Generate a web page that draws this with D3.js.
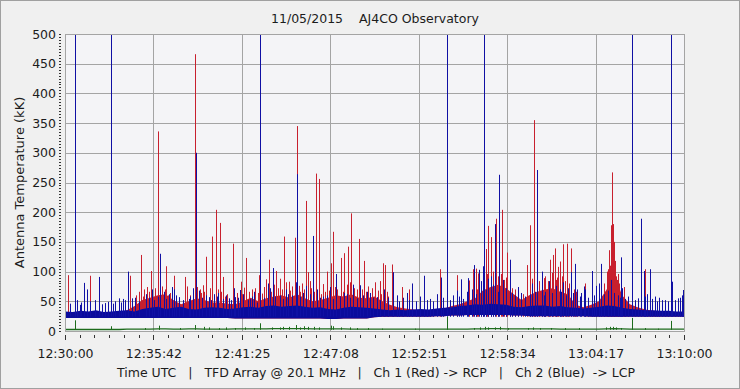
<!DOCTYPE html>
<html>
<head>
<meta charset="utf-8">
<script src="https://cdn.jsdelivr.net/npm/d3@7"></script>
<style>
  body { margin: 0; background: #f0f0f0; }
  svg { display: block; }
  text { font-family: "DejaVu Sans", sans-serif; fill: #1c1c1c; }
</style>
</head>
<body>
<div id="chart"></div>
<script>
// ---- data (minutes after 12:30:00 UTC, antenna temperature in kK) ----
var titleText = "11/05/2015    AJ4CO Observatory";
var yLabel = "Antenna Temperature (kK)";
var xLabel = "Time UTC   |   TFD Array @ 20.1 MHz   |   Ch 1 (Red) -> RCP   |   Ch 2 (Blue)  -> LCP";
var tickLabels = ["12:30:00", "12:35:42", "12:41:25", "12:47:08", "12:52:51", "12:58:34", "13:04:17", "13:10:00"];
var yTicks = [0, 50, 100, 150, 200, 250, 300, 350, 400, 450, 500];

// envelope of the dense noise, one value per half minute (0..40)
var blueLow = [22,22,22,22,22,22,22,22,22,22, 22,22,22,22,22,22,22,22,22,22,
               22,22,21,21,21,21,21,21,21,21, 21,21,21,21,20,20,21,21,21,21,
               23,24,24,24,24,24,24,24,25,25, 26,26,27,27,27,27,27,27,26,26,
               25,25,25,25,25,25,25,25,24,24, 24,24,24,24,24,24,24,24,24,24, 24];
var blueTop = [33,32,34,33,35,32,33,34,35,33, 37,39,41,37,39,41,37,36,39,40,
               39,37,38,40,41,39,42,43,41,42, 43,41,39,40,37,36,39,41,40,39,
               38,36,35,36,35,36,37,36,38,39, 40,42,43,45,44,46,45,44,41,40,
               42,43,43,41,42,40,39,38,39,41, 43,42,39,37,36,35,35,34,34,33, 33];
var redTop  = [26,27,26,27,28,29,30,31,35,42, 52,56,60,62,52,45,50,55,52,48,
               48,46,45,50,56,50,55,58,60,56, 62,55,50,52,56,60,58,62,56,55,
               58,50,44,40,38,36,35,34,36,38, 42,45,50,55,68,74,78,72,62,52,
               60,66,70,72,66,62,44,40,44,50, 70,95,60,45,40,36,34,33,32,31, 30];
var greenBase = [2.5,2.5,2.5,2.5,2.5,2.5,2.5,2.5,3,3, 3,3,3.5,3.5,3,3,3.5,3.5,3,3,
                 3,3,3.5,3.5,3.5,3.5,3.5,4,4,4, 4,4,3.5,3.5,3.5,3.5,3.5,3,3,3,
                 3,3,3,3,3,3,3,3,3,3, 3,3,3,3.5,3.5,4,4,3.5,3.5,3.5,
                 3.5,3.5,3.5,3.5,3,3,3,3,3,3, 3.5,4,3.5,3,3,3,3,3,3,3, 3];

// Ch 1 (red) bursts: [minute, kK]
var redSpikes = [
  [0.21,94],[1.63,93],[4.22,93],[4.93,128],[5.54,101],[5.98,184],[6.03,336],[6.53,109],[7.06,93],
  [7.77,91],[7.90,75],[8.42,466],[8.48,218],[8.94,77],[9.13,125],[9.48,159],[9.78,204],[10.00,182],
  [10.21,91],[10.84,147],[11.35,83],[11.59,73],[11.72,123],[12.56,94],[12.75,63],[12.99,87],[13.20,120],
  [13.65,101],[13.87,88],[14.17,159],[14.46,83],[14.88,157],[15.01,345],[15.17,66],[15.59,219],[15.72,99],
  [16.24,265],[16.43,256],[16.65,79],[16.95,100],[17.19,114],[17.34,167],[17.82,123],[18.01,131],
  [18.31,142],[18.50,198],[19.02,155],[19.34,118],[20.01,82],[20.37,84],[20.53,114],[20.66,111],
  [21.11,112],[21.76,74],[22.25,70],[24.25,104],[25.36,94],[26.13,85],[26.38,104],[26.56,105],[26.71,97],
  [27.20,138],[27.35,177],[27.53,158],[27.87,189],[28.27,204],[28.58,132],[29.85,111],[30.07,178],
  [30.33,355],[30.97,89],[31.37,120],[31.53,128],[31.68,139],[31.86,108],[32.01,117],[32.20,146],
  [32.41,147],[32.72,139],[33.6,80],[35.02,83],[35.13,136],[35.26,178],[35.37,267],[35.68,86],[36.1,74],[37.48,104],
  [4.6,60],[5.1,70],[5.4,66],[5.8,72],[6.3,75],[6.8,64],[8.1,60],[8.7,70],[9.0,66],[9.9,70],[10.5,62],
  [11.1,64],[11.9,66],[12.3,72],[13.0,68],[13.5,78],[14.0,70],[14.7,75],[15.3,80],[15.9,72],[16.8,66],
  [17.6,70],[18.2,78],[18.7,72],[19.2,70],[19.6,75],[20.2,68],[20.8,66],[26.9,74],[27.5,90],[28.0,92],
  [28.4,86],[28.9,72],[29.3,66],[30.5,80],[30.8,76],[31.2,84],[31.8,90],[32.3,84],[32.9,70],[35.0,100],
  [35.2,110],[35.3,120],[35.45,150],[35.5,105],[35.6,92],[35.8,80],
  [4.75,66],[5.05,58],[5.3,74],[5.65,64],[6.15,80],[6.45,70],[6.65,60],[7.2,58],
  [8.25,62],[8.55,74],[8.8,64],[9.4,72],[9.65,60],[10.1,66],[10.35,58],
  [11.45,62],[12.1,70],[12.45,64],[12.85,74],[13.3,66],[13.75,72],[14.25,82],[14.55,68],[15.1,76],
  [15.45,70],[15.8,84],[16.1,66],[16.55,62],
  [17.05,68],[17.45,74],[17.95,66],[18.4,82],[18.85,70],[19.45,66],[19.85,72],[20.45,62],[20.9,58],
  [26.6,70],[27.0,82],[27.25,96],[27.65,100],[28.15,96],[28.5,90],[28.75,80],[29.1,70],[29.6,62],
  [30.2,88],[30.6,84],[31.05,92],[31.45,98],[31.75,86],[32.1,92],[32.55,80],[33.0,66],
  [34.85,80],[35.1,104],[35.33,130],[35.42,180],[35.55,118],[35.75,96],[35.9,84]
];

// Ch 2 (blue) bursts: [minute, kK]; 500 = off the top of the plot
var blueSpikes = [
  [0.63,500],[2.99,500],[12.63,500],[24.67,500],[27.10,500],[36.66,500],[39.13,500],
  [1.25,81],[1.42,70],[2.22,91],[3.47,55],[3.73,54],[4.04,100],[4.54,56],[6.17,130],[7.02,70],[8.47,300],
  [11.33,69],[13.27,72],[13.41,106],[15.01,264],[16.04,160],[17.48,96],[19.06,77],[21.18,99],[22.44,80],
  [23.23,93],[24.28,90],[25.59,87],[26.06,89],[26.43,111],[26.73,103],[27.03,109],[27.81,180],[28.06,263],
  [28.78,120],[30.53,271],[30.80,100],[32.68,99],[32.94,113],[33.52,75],[34.07,101],[34.66,113],[35.95,124],
  [37.24,189],[37.40,101],[37.82,104],[39.25,83],[39.96,69],
  [0.02,44],[0.78,52],[1.05,48],[1.96,52],[2.56,47],[3.25,50],[4.33,55],[5.23,62],[5.73,52],[6.38,66],
  [6.74,62],[7.35,57],[7.99,54],[8.64,68],[9.29,57],[9.61,62],[10.58,55],[11.01,57],[11.97,54],[12.41,48],
  [13.89,60],[14.43,62],[15.40,64],[16.69,58],[18.20,62],[18.85,55],[19.71,64],[20.14,57],[21.43,60],
  [21.86,56],[22.94,58],[23.59,54],[24.02,62],[25.09,60],[25.96,66],[26.28,70],[27.33,88],[27.66,78],
  [29.06,60],[29.49,64],[31.0,66],[31.97,70],[32.5,72],[33.36,64],[33.58,70],[34.33,76],[35.09,68],
  [35.73,60],[36.38,58],[37.03,55],[38.11,58],[38.75,52],[39.61,55],[39.87,60],
  [5.6,70],[6.9,74],[8.3,72],[9.9,64],[10.9,72],[12.2,66],[13.1,80],[14.3,70],[14.9,82],[15.6,76],
  [16.3,70],[17.1,74],[18.6,78],[19.5,66],[20.6,70],[22.1,64],[25.3,68],[26.9,84],[27.5,92],[28.3,86],
  [29.3,74],[30.2,80],[31.3,84],[31.7,76],[32.2,82],[33.1,70],[34.5,80],[35.3,86],[36.0,72],[37.6,62],[38.4,56],
  [0.35,46],[0.95,44],[1.6,50],[2.4,45],[2.8,49],[3.1,46],[3.6,48],[3.9,52],[4.8,50],[5.4,56],[6.0,58],
  [6.55,54],[7.2,60],[7.6,52],[8.1,58],[8.85,56],[9.1,60],[9.45,52],[9.8,58],[10.2,54],[10.4,60],[10.75,52],
  [11.2,56],[11.5,62],[11.8,52],[12.1,58],[12.85,56],[13.6,58],[14.1,54],[14.65,60],[15.2,58],[15.8,62],
  [16.5,56],[16.9,60],[17.3,54],[17.75,58],[18.0,64],[18.4,56],[19.25,60],[19.9,56],[20.35,52],[20.85,56],
  [21.6,50],[22.25,52],[22.7,50],[23.4,52],[23.8,50],[24.45,56],[24.85,52],[25.45,58],[25.75,54],[26.55,62],
  [27.2,70],[27.95,66],[28.5,72],[28.9,64],[29.7,58],[30.05,62],[30.35,66],[30.95,60],[31.5,64],[32.05,66],
  [32.35,60],[32.8,64],[33.25,58],[33.8,56],[34.2,60],[34.8,62],[35.5,64],[35.85,56],[36.2,54],[36.85,52],
  [37.5,58],[37.95,54],[38.25,50],[38.6,52],[38.95,50],[39.4,52],[39.75,56]
];

// green trace spikes: [minute, kK]
var greenSpikes = [
  [0.63,18],[2.99,8],[6.05,9],[6.1,7],[8.42,10],[8.96,7],[9.29,6],[9.93,5],[11.0,5],[12.63,13],
  [13.4,6],[14.06,7],[14.92,10],[15.46,8],[15.68,7],[16.11,7],[16.39,6],[17.19,9],[17.3,8],[17.84,6],
  [18.4,6],[20.47,4],[24.67,24],[27.12,7],[27.34,6],[28.1,7],[29.92,5],[30.25,6],[30.68,5],[34.98,6],
  [35.2,7],[35.42,7],[36.66,22],[39.13,17],
  [5.2,5],[7.4,5],[10.4,6],[11.6,6],[12.2,5],[13.9,6],[14.5,7],[15.2,6],[18.9,5],[19.6,5],[22.6,4],
  [26.4,5],[26.8,6],[27.8,6],[28.6,5],[31.4,5],[32.3,5],[33.2,5],[35.6,6],[35.9,5],[37.5,5],[38.3,4]
];

// ---- drawing ----
var W = 740, H = 389;
var margin = {left: 65, top: 34, right: 56, bottom: 58};
var pw = W - margin.left - margin.right, ph = H - margin.top - margin.bottom;

var svg = d3.select("#chart").append("svg")
    .attr("width", W)
    .attr("height", H);

svg.append("rect").attr("x", 0.5).attr("y", 0.5).attr("width", W - 1).attr("height", H - 1)
    .attr("fill", "#f0f0f0").attr("stroke", "#a0a0a0");

var x = d3.scaleLinear().domain([0, 40]).range([0, pw]);
var y = d3.scaleLinear().domain([0, 500]).range([ph, 0]);
var halfMinutes = d3.range(0, 81);
var majorT = d3.range(0, 8).map(function(i) { return i * 40 / 7; });
var minorT = d3.range(0, 43).map(function(i) { return i * 40 / 42; });

var g = svg.append("g").attr("transform", "translate(" + margin.left + "," + margin.top + ")");

g.append("rect").attr("width", pw).attr("height", ph).attr("fill", "#f4f4f7");

svg.append("defs").append("clipPath").attr("id", "clip")
  .append("rect").attr("width", pw).attr("height", ph + 1);

// grid
g.append("g").selectAll("line").data(yTicks).join("line")
    .attr("x1", 0).attr("x2", pw)
    .attr("y1", function(d) { return Math.round(y(d)) + 0.5; })
    .attr("y2", function(d) { return Math.round(y(d)) + 0.5; })
    .attr("stroke", "#a4a4a4");
g.append("g").selectAll("line").data(majorT).join("line")
    .attr("y1", 0).attr("y2", ph)
    .attr("x1", function(d) { return Math.round(x(d)) + 0.5; })
    .attr("x2", function(d) { return Math.round(x(d)) + 0.5; })
    .attr("stroke", "#a4a4a4");

var plot = g.append("g").attr("clip-path", "url(#clip)");

function spikeX(d) { return Math.round(x(d[0])) + 0.5; }

// red channel
plot.append("path")
    .datum(halfMinutes)
    .attr("fill", "#c42030")
    .attr("d", d3.area()
        .x(function(i) { return x(i / 2); })
        .y0(function(i) { return y(blueLow[i]); })
        .y1(function(i) { return y(redTop[i]); }));
plot.append("g").selectAll("line").data(redSpikes).join("line")
    .attr("x1", spikeX).attr("x2", spikeX)
    .attr("y1", y(24))
    .attr("y2", function(d) { return y(d[1]); })
    .attr("stroke", "#c8202e").attr("stroke-width", 1);

// blue channel
plot.append("path")
    .datum(halfMinutes)
    .attr("fill", "#0b0b9c")
    .attr("d", d3.area()
        .x(function(i) { return x(i / 2); })
        .y0(function(i) { return y(blueLow[i]); })
        .y1(function(i) { return y(blueTop[i]); }));
plot.append("g").selectAll("line").data(blueSpikes).join("line")
    .attr("x1", spikeX).attr("x2", spikeX)
    .attr("y1", y(24))
    .attr("y2", function(d) { return y(d[1]); })
    .attr("stroke", "#1010a4").attr("stroke-width", 1);

// green trace
plot.append("path")
    .datum(halfMinutes)
    .attr("fill", "none").attr("stroke", "#1d6b1d").attr("stroke-width", 1.3)
    .attr("d", d3.line()
        .x(function(i) { return x(i / 2); })
        .y(function(i) { return y(greenBase[i]); }));
plot.append("g").selectAll("line").data(greenSpikes).join("line")
    .attr("x1", spikeX).attr("x2", spikeX)
    .attr("y1", y(2))
    .attr("y2", function(d) { return y(d[1]); })
    .attr("stroke", "#1d6b1d");

// frame
g.append("rect").attr("x", 0.5).attr("y", 0.5).attr("width", pw).attr("height", ph)
    .attr("fill", "none").attr("stroke", "#a4a4a4");

// y axis: labels and dotted minor ticks
var yAxis = d3.axisLeft(y).tickValues(yTicks).tickSize(0).tickPadding(9);
g.append("g").call(yAxis)
    .call(function(s) { s.select(".domain").remove(); })
    .selectAll("text").style("font-size", "12.5px").attr("fill", "#1c1c1c");
g.append("g").selectAll("line").data(d3.range(0, 501, 5)).join("line")
    .attr("x1", -6).attr("x2", -4)
    .attr("y1", function(d) { return Math.round(y(d)) + 0.5; })
    .attr("y2", function(d) { return Math.round(y(d)) + 0.5; })
    .attr("stroke", "#333");

// x axis
var xAxis = d3.axisBottom(x).tickValues(majorT).tickSize(0).tickPadding(18)
    .tickFormat(function(d, i) { return tickLabels[i]; });
g.append("g").attr("transform", "translate(0," + ph + ")").call(xAxis)
    .call(function(s) { s.select(".domain").remove(); })
    .selectAll("text").style("font-size", "12.5px").attr("fill", "#1c1c1c");
g.append("g").selectAll("line").data(minorT).join("line")
    .attr("x1", function(d) { return Math.round(x(d)) + 0.5; })
    .attr("x2", function(d) { return Math.round(x(d)) + 0.5; })
    .attr("y1", ph + 4).attr("y2", function(d, i) { return ph + (i % 6 === 0 ? 9 : 7); })
    .attr("stroke", "#333");

// texts
svg.append("text").attr("x", 375).attr("y", 23).attr("text-anchor", "middle")
    .style("font-size", "12.5px").attr("xml:space", "preserve").text(titleText);
svg.append("text").attr("transform", "translate(24," + (margin.top + ph / 2) + ") rotate(-90)")
    .attr("text-anchor", "middle").style("font-size", "13px").text(yLabel);
svg.append("text").attr("x", 376).attr("y", 377).attr("text-anchor", "middle")
    .style("font-size", "12.5px").attr("xml:space", "preserve").style("white-space", "pre").text(xLabel);
</script>
</body>
</html>
